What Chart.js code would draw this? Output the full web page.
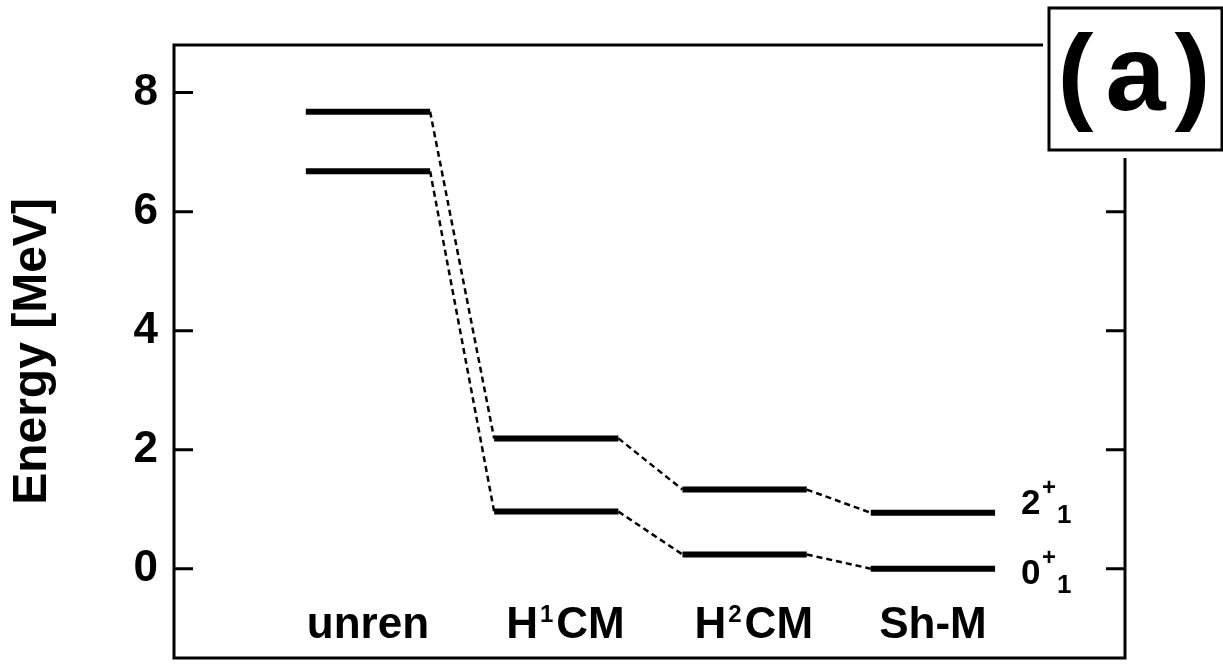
<!DOCTYPE html>
<html>
<head>
<meta charset="utf-8">
<script src="https://cdn.jsdelivr.net/npm/chart.js@4.4.1/dist/chart.umd.min.js"></script>
<style>
  html, body { margin: 0; padding: 0; background: #fff; }
  #wrap { width: 1223px; height: 664px; }
</style>
</head>
<body>
<div id="wrap"><canvas id="myChart"></canvas></div>
<script>
// level energies per method
var methods = ["unren", "H^1CM", "H^2CM", "Sh-M"];
var energy2 = [7.68, 2.19, 1.33, 0.94];   // 2+_1 state
var energy0 = [6.68, 0.96, 0.24, 0.00];   // 0+_1 state
var stateNames = ["2", "0"];
var yTicks = [0, 2, 4, 6, 8];

var FONT = "'Liberation Sans', Arial, sans-serif";
var halfWidth = 0.33;

function levelPoints(values) {
  var pts = [];
  values.forEach(function(v, i) {
    pts.push({ x: i + 1 - halfWidth, y: v });
    pts.push({ x: i + 1 + halfWidth, y: v });
  });
  return pts;
}

function isConnector(ctx) {
  return ctx.p0DataIndex % 2 === 1;
}

var segmentStyle = {
  borderWidth: function(ctx) { return isConnector(ctx) ? 2.5 : 6; },
  borderDash: function(ctx) { return isConnector(ctx) ? [6, 4] : []; }
};

var framePlugin = {
  id: "frame",
  beforeDatasetsDraw: function(chart) {
    var c = chart.ctx, a = chart.chartArea, y = chart.scales.y;
    c.save();
    c.strokeStyle = "#000";
    c.lineWidth = 3;
    c.strokeRect(a.left, a.top, a.right - a.left, a.bottom - a.top);
    yTicks.forEach(function(v) {
      var py = y.getPixelForValue(v);
      c.beginPath();
      c.moveTo(a.left, py); c.lineTo(a.left + 19, py);
      c.moveTo(a.right, py); c.lineTo(a.right - 19, py);
      c.stroke();
    });
    c.restore();
  },
  afterDraw: function(chart) {
    var c = chart.ctx, a = chart.chartArea;
    var xs = chart.scales.x, ys = chart.scales.y;
    c.save();
    c.fillStyle = "#000";
    c.textAlign = "left";
    c.textBaseline = "alphabetic";

    // method names under the levels
    var base = a.bottom - 20;
    methods.forEach(function(m, i) {
      var cx = xs.getPixelForValue(i + 1);
      var k = m.indexOf("^");
      var pre = k < 0 ? m : m.slice(0, k);
      var sup = k < 0 ? "" : m.charAt(k + 1);
      var post = k < 0 ? "" : m.slice(k + 2);
      c.font = "bold 44px " + FONT;
      var wPre = c.measureText(pre).width;
      var wPost = c.measureText(post).width;
      var start = cx - (wPre + wPost) / 2;
      c.fillText(pre, start, base);
      var wSup = 0;
      if (sup) {
        c.font = "bold 24px " + FONT;
        wSup = c.measureText(sup).width + 5;
        c.fillText(sup, start + wPre + 2, base - 16);
        c.font = "bold 44px " + FONT;
        c.fillText(post, start + wPre + wSup, base);
      }
    });

    // state labels to the right of the last levels
    var lx = xs.getPixelForValue(methods.length + halfWidth) + 26;
    var last = [energy2[energy2.length - 1], energy0[energy0.length - 1]];
    var shift = [1, 15];
    stateNames.forEach(function(s, i) {
      var b = ys.getPixelForValue(last[i]) + shift[i];
      c.font = "bold 35px " + FONT;
      c.fillText(s, lx, b);
      c.font = "bold 24px " + FONT;
      c.fillText("+", lx + 21, b - 19);
      c.font = "bold 26px " + FONT;
      c.fillText("1", lx + 36, b + 9);
    });

    // panel tag box
    var bx0 = a.right - 76, bx1 = a.right + 97;
    var by0 = a.top - 37, by1 = a.top + 105;
    c.fillStyle = "#fff";
    c.fillRect(bx0 - 6, by0 - 6, bx1 - bx0 + 12, by1 - by0 + 14);
    c.strokeStyle = "#000";
    c.lineWidth = 3;
    c.strokeRect(bx0, by0, bx1 - bx0, by1 - by0);
    c.fillStyle = "#000";
    c.font = "bold 108px " + FONT;
    c.textAlign = "center";
    c.textBaseline = "middle";
    var bcx = (bx0 + bx1) / 2, bcy = (by0 + by1) / 2 + 1;
    c.fillText("(", bcx - 60, bcy);
    c.fillText("a", bcx, bcy);
    c.fillText(")", bcx + 57, bcy);
    c.restore();
  }
};

document.addEventListener("DOMContentLoaded", function() {
  var ctx = document.getElementById("myChart");

  var myChart = new Chart(ctx, {
    type: "line",
    data: {
      datasets: [
        {
          label: "2+1",
          data: levelPoints(energy2),
          borderColor: "#000",
          borderWidth: 6,
          borderCapStyle: "butt",
          pointRadius: 0,
          tension: 0,
          fill: false,
          segment: segmentStyle
        },
        {
          label: "0+1",
          data: levelPoints(energy0),
          borderColor: "#000",
          borderWidth: 6,
          borderCapStyle: "butt",
          pointRadius: 0,
          tension: 0,
          fill: false,
          segment: segmentStyle
        }
      ]
    },
    options: {
      responsive: true,
      maintainAspectRatio: false,
      animation: false,
      layout: { padding: { top: 45, right: 98, bottom: 6, left: 0 } },
      plugins: {
        legend: { display: false },
        tooltip: { enabled: false }
      },
      scales: {
        x: {
          type: "linear",
          min: -0.03,
          max: 5.02,
          display: false
        },
        y: {
          min: -1.5,
          max: 8.8,
          afterBuildTicks: function(scale) {
            scale.ticks = yTicks.map(function(v) { return { value: v }; });
          },
          afterFit: function(scale) {
            scale.width = 174;
            scale.paddingTop = 0;
            scale.paddingBottom = 0;
          },
          grid: { display: false, drawTicks: false },
          border: { display: false },
          ticks: {
            color: "#000",
            padding: 16,
            font: { family: FONT, size: 44, weight: "bold" }
          },
          title: {
            display: true,
            text: "Energy [MeV]",
            color: "#000",
            padding: { top: 4, bottom: 0 },
            font: { family: FONT, size: 48, weight: "bold" }
          }
        }
      }
    },
    plugins: [framePlugin]
  });
});
</script>
</body>
</html>
